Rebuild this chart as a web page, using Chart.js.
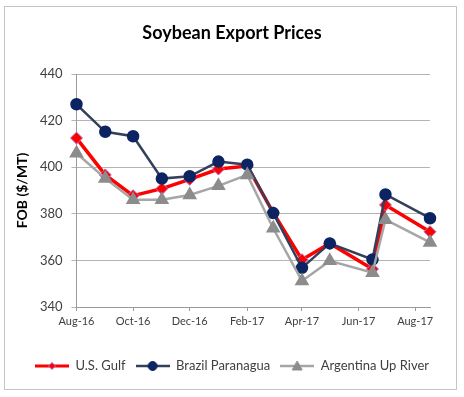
<!DOCTYPE html>
<html>
<head>
<meta charset="utf-8">
<script src="https://cdn.jsdelivr.net/npm/chart.js@4.4.1/dist/chart.umd.min.js"></script>
<style>
  html, body { margin: 0; padding: 0; background: #fff; }
  #box { width: 464px; height: 397px; }
</style>
</head>
<body>
<div id="box"><canvas id="graph-box"></canvas></div>
<script>
// observation dates (Excel date axis)
const dates = ['2016-08-01', '2016-09-01', '2016-10-01', '2016-11-01', '2016-12-01', '2017-01-01',
    '2017-02-01', '2017-03-01', '2017-04-01', '2017-05-01', '2017-06-16', '2017-06-30', '2017-08-17'];

const usGulf = [412.5, 396.7, 387.8, 390.8, 394.8, 399.2, 400.5, 380.5, 360.3, 367.3, 356.3, 383.8, 372.3];
const brazil = [427.0, 415.2, 413.3, 395.1, 396.1, 402.4, 401.1, 380.3, 356.8, 367.3, 360.4, 388.3, 378.1];
const argentina = [406.0, 395.2, 386.0, 386.0, 388.1, 392.0, 396.7, 373.8, 351.2, 359.8, 354.7, 377.5, 367.7];

const tickDates = ['2016-08-01', '2016-10-01', '2016-12-01', '2017-02-01', '2017-04-01', '2017-06-01', '2017-08-01'];
const tickLabels = ['Aug-16', 'Oct-16', 'Dec-16', 'Feb-17', 'Apr-17', 'Jun-17', 'Aug-17'];

const dayOf = (d) => (Date.parse(d) - Date.parse(dates[0])) / 864e5;
const toPoints = (vals) => dates.map((d, i) => ({x: dayOf(d), y: vals[i]}));

// little line+marker picture for the legend
function legendIcon(lineColor, markColor, markBorder, style, lw) {
    const c = document.createElement('canvas');
    c.width = 34;
    c.height = 14;
    const g = c.getContext('2d');
    g.strokeStyle = lineColor;
    g.lineWidth = lw;
    g.beginPath();
    g.moveTo(0, 7);
    g.lineTo(34, 7);
    g.stroke();
    g.fillStyle = markColor;
    g.strokeStyle = markBorder;
    g.lineWidth = 1;
    g.beginPath();
    if (style === 'circle') {
        g.arc(17, 7, 4.5, 0, Math.PI * 2);
    } else if (style === 'diamond') {
        g.moveTo(17, 3.5); g.lineTo(20.5, 7); g.lineTo(17, 10.5); g.lineTo(13.5, 7); g.closePath();
    } else {
        g.moveTo(17, 2); g.lineTo(22, 11); g.lineTo(12, 11); g.closePath();
    }
    g.fill();
    g.stroke();
    return c;
}

const icons = [
    legendIcon('#ff0000', '#ff0000', '#b070c0', 'diamond', 3),
    legendIcon('#34405a', '#0c2461', '#0c2461', 'circle', 2.5),
    legendIcon('#a6a6a6', '#8c8c8c', '#8c8c8c', 'triangle', 2.5)
];

const frame = {
    id: 'frame',
    beforeDraw(chart) {
        const c = chart.ctx;
        c.save();
        c.fillStyle = '#ffffff';
        c.fillRect(0, 0, chart.width, chart.height);
        c.strokeStyle = '#c4c4c4';
        c.lineWidth = 1;
        c.strokeRect(4.5, 6.5, 452, 383);
        c.restore();
    }
};

Chart.defaults.font.family = 'Lato';
Chart.defaults.color = '#404040';

const ctx = document.getElementById('graph-box');

const myChart = new Chart(ctx, {
    type: 'line',
    data: {
        datasets: [
        {
            label: 'U.S. Gulf',
            data: toPoints(usGulf),
            borderColor: '#ff0000',
            borderWidth: 3.5,
            pointStyle: 'rectRot',
            pointRadius: 6,
            pointBackgroundColor: '#ff0000',
            pointBorderColor: '#b070c0',
            pointBorderWidth: 1,
            order: 3,
            clip: false
        },
        {
            label: 'Brazil Paranagua',
            data: toPoints(brazil),
            borderColor: '#34405a',
            borderWidth: 2.5,
            pointStyle: 'circle',
            pointRadius: 5,
            pointBackgroundColor: '#0c2461',
            pointBorderColor: '#0c2461',
            order: 2,
            clip: false
        },
        {
            label: 'Argentina Up River',
            data: toPoints(argentina),
            borderColor: '#a6a6a6',
            borderWidth: 2.5,
            pointStyle: 'triangle',
            pointRadius: 6,
            pointBackgroundColor: '#8c8c8c',
            pointBorderColor: '#8c8c8c',
            order: 1,
            clip: false
        }]
    },
    options: {
        responsive: true,
        maintainAspectRatio: false,
        animation: false,
        layout: {
            padding: {left: 8, right: 8, top: 0, bottom: 14.5}
        },
        plugins: {
            title: {
                display: true,
                text: 'Soybean Export Prices',
                color: '#000000',
                font: {size: 18, weight: 'bold'},
                padding: {top: 22, bottom: 30.4}
            },
            legend: {
                position: 'bottom',
                labels: {
                    usePointStyle: true,
                    pointStyleWidth: 34,
                    padding: 10,
                    color: '#404040',
                    font: {size: 13},
                    generateLabels(chart) {
                        return chart.data.datasets.map((ds, i) => ({
                            text: ds.label,
                            pointStyle: icons[i],
                            fillStyle: ds.borderColor,
                            strokeStyle: ds.borderColor,
                            lineWidth: 0,
                            hidden: false,
                            datasetIndex: i,
                            fontColor: '#404040'
                        }));
                    }
                }
            },
            tooltip: {enabled: false}
        },
        scales: {
            x: {
                type: 'linear',
                min: 0,
                max: dayOf(dates[dates.length - 1]),
                afterBuildTicks(scale) {
                    scale.ticks = tickDates.map(d => ({value: dayOf(d)}));
                },
                afterFit(scale) {
                    scale.height = 42.5;
                },
                ticks: {
                    autoSkip: false,
                    maxRotation: 0,
                    padding: 4,
                    color: '#404040',
                    font: {size: 11},
                    callback(value) {
                        const i = tickDates.findIndex(d => dayOf(d) === value);
                        return i >= 0 ? tickLabels[i] : '';
                    }
                },
                grid: {
                    drawOnChartArea: false,
                    tickLength: 4,
                    color: '#9a9a9a'
                },
                border: {color: '#9a9a9a'}
            },
            y: {
                min: 340,
                max: 440,
                afterFit(scale) {
                    scale.width = 68.5;
                },
                ticks: {
                    stepSize: 20,
                    padding: 9,
                    color: '#404040',
                    font: {size: 13}
                },
                grid: {
                    color: '#b4b4b4',
                    tickLength: 5
                },
                border: {color: '#9a9a9a'},
                title: {
                    display: true,
                    text: 'FOB ($/MT)',
                    color: '#000000',
                    font: {size: 14, weight: 'bold'},
                    padding: {top: 6, bottom: 0}
                }
            },
            yR: {
                position: 'right',
                afterFit(scale) {
                    scale.width = 26;
                },
                ticks: {display: false},
                grid: {display: false},
                border: {display: false}
            }
        }
    },
    plugins: [frame]
});
</script>
</body>
</html>
